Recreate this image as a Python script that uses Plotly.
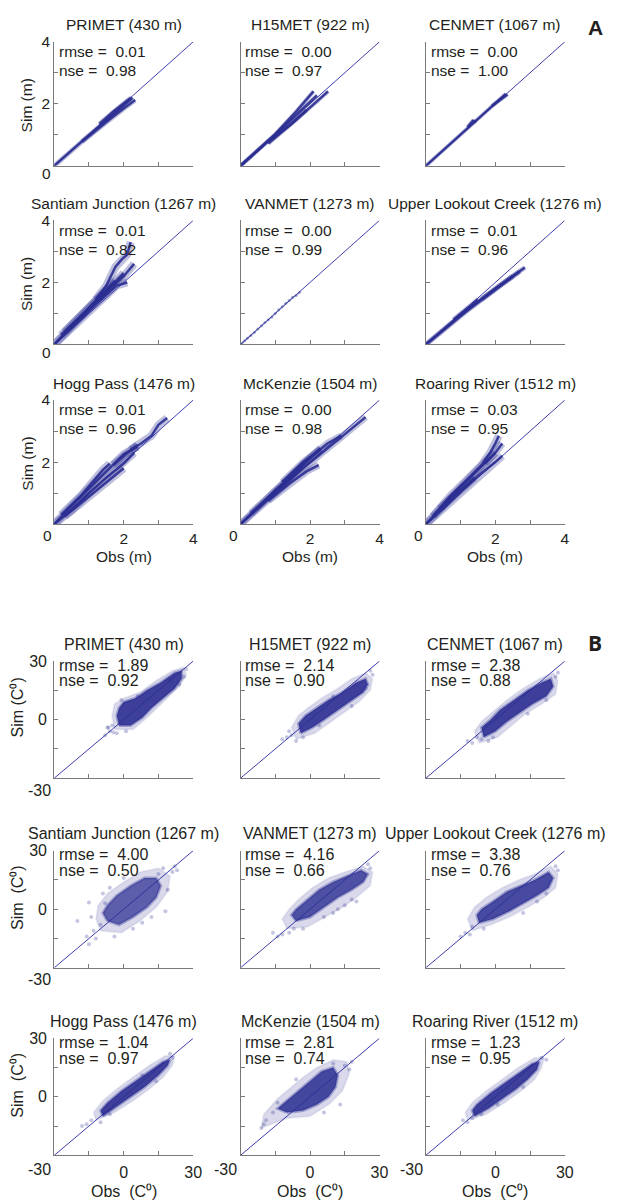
import plotly.graph_objects as go

# ============================ DATA ============================
snow_titles = ["PRIMET (430 m)", "H15MET (922 m)", "CENMET (1067 m)",
               "Santiam Junction (1267 m)", "VANMET (1273 m)", "Upper Lookout Creek (1276 m)",
               "Hogg Pass (1476 m)", "McKenzie (1504 m)", "Roaring River (1512 m)"]
temp_titles = snow_titles
snow_rmse = ["0.01", "0.00", "0.00", "0.01", "0.00", "0.01", "0.01", "0.00", "0.03"]
snow_nse = ["0.98", "0.97", "1.00", "0.82", "0.99", "0.96", "0.96", "0.98", "0.95"]
temp_rmse = ["1.89", "2.14", "2.38", "4.00", "4.16", "3.38", "1.04", "2.81", "1.23"]
temp_nse = ["0.92", "0.90", "0.88", "0.50", "0.66", "0.76", "0.97", "0.74", "0.95"]

snow_range = [0, 4]
snow_major = [2, 4]
snow_minor = [1, 3]
snow_corner = "0"
temp_range = [-30, 30]
temp_major = [0, 30]
temp_minor = [-15, 15]
temp_corner = "-30"

# Snow depth (m): observed vs simulated traces, None separates strands
primet_snow_obs = [0, 0.5, 1.0, 1.5, 1.9, 2.25, None, 0.8, 1.2, 1.6, 2.0, 2.33, None, 1.3, 1.7, 2.1, 2.2]
primet_snow_sim = [0, 0.5, 1.0, 1.48, 1.85, 2.2, None, 0.78, 1.15, 1.5, 1.85, 2.12, None, 1.35, 1.75, 2.1, 2.18]
h15met_snow_obs = [0, 1.0, 1.6, 2.1, None, 0, 1.0, 1.7, 2.2, None, 0.8, 1.6, 2.52, None, 0.9, 1.4, 1.9]
h15met_snow_sim = [0, 1.02, 1.75, 2.4, None, 0, 1.0, 1.75, 2.27, None, 0.72, 1.48, 2.4, None, 0.88, 1.3, 1.8]
cenmet_snow_obs = [0, 1.0, 2.0, 2.3, None, 1.2, 1.35, 1.45, None, 1.9, 2.35]
cenmet_snow_sim = [0, 1.0, 2.0, 2.32, None, 1.25, 1.45, 1.42, None, 1.93, 2.3]
santiam_snow_obs = [0, 0.5, 1.0, 1.5, 2.0, 2.3, None, 0, 0.6, 1.2, 1.8, 2.1, None, 0.3, 0.8, 1.3, 1.75,
                    None, 1.2, 1.5, 1.76, 1.95, 2.1, 2.2, None, 0.2, 0.7, 1.4, 2.0]
santiam_snow_sim = [0, 0.6, 1.15, 1.7, 2.2, 2.6, None, 0, 0.65, 1.3, 1.9, 2.0, None, 0.4, 0.95, 1.55, 2.05,
                    None, 1.45, 1.9, 2.5, 2.75, 2.9, 3.3, None, 0.3, 0.85, 1.6, 2.3]
vanmet_snow_obs = [0.05, 0.12, 0.2, 0.3, 0.4, 0.5, 0.6, 0.7, 0.8, 0.9, 1.0, 1.1, 1.2, 1.3, 1.4, 1.5, 1.6, 1.7]
vanmet_snow_sim = [0.05, 0.12, 0.2, 0.29, 0.39, 0.5, 0.6, 0.71, 0.8, 0.88, 1.0, 1.12, 1.22, 1.33, 1.42, 1.52, 1.58, 1.68]
lookout_snow_obs = [0, 1.0, 2.0, 2.85, None, 0, 1.2, 2.2, 2.7, None, 0.8, 1.5, None, 1.6, 2.5]
lookout_snow_sim = [0, 0.95, 1.8, 2.48, None, 0, 1.1, 1.95, 2.35, None, 0.8, 1.45, None, 1.45, 2.2]
hogg_snow_obs = [0, 0.5, 1.0, 1.5, 2.0, 2.4, None, 0, 0.5, 1.0, 1.5, 2.0, 2.3, None, 0.2, 0.8, 1.4, 1.6,
                 None, 0.3, 1.0, 1.6, 2.0, None, 2.2, 2.5, 2.8, 3.0, 3.25, None, 1.7, 2.1, 2.4]
hogg_snow_sim = [0, 0.6, 1.15, 1.7, 2.25, 2.5, None, 0, 0.45, 1.0, 1.5, 1.95, 2.3, None, 0.3, 0.95, 1.75, 1.95,
                 None, 0.25, 0.9, 1.45, 1.8, None, 2.4, 2.6, 2.85, 3.2, 3.42, None, 1.9, 2.3, 2.55]
mckenzie_snow_obs = [0, 0.5, 1.0, 1.5, 2.0, 2.5, 2.9, None, 0, 0.6, 1.2, 1.8, 2.4, 3.0, 3.6,
                     None, 0.8, 1.4, 1.9, 2.25, None, 0.3, 1.0, 1.7, 2.3, None, 1.2, 1.8, 2.3]
mckenzie_snow_sim = [0, 0.55, 1.1, 1.6, 2.15, 2.6, 2.85, None, 0, 0.6, 1.2, 1.8, 2.35, 2.9, 3.45,
                     None, 0.75, 1.3, 1.7, 1.9, None, 0.35, 1.05, 1.8, 2.45, None, 1.35, 2.0, 2.4]
roaring_snow_obs = [0, 0.5, 1.0, 1.5, 1.8, 2.0, None, 0, 0.5, 1.0, 1.5, 2.0, 2.2,
                    None, 0.2, 0.7, 1.2, 1.6, 1.85, 2.0, 2.1, None, 1.7, 2.0, 2.2, None, 0.4, 0.9, 1.4]
roaring_snow_sim = [0, 0.6, 1.2, 1.75, 2.1, 2.3, None, 0, 0.5, 1.05, 1.55, 2.0, 2.2,
                    None, 0.25, 0.9, 1.45, 1.9, 2.3, 2.6, 2.85, None, 1.95, 2.3, 2.6, None, 0.5, 1.0, 1.5]

# Air temperature (C): dense core outline, outer spread outline, scattered outlying points
primet_core_obs = [-2, 3, 8, 12, 17, 22, 25, 25, 22, 16, 10, 5, 0, -2, -3]
primet_core_sim = [-3, -3, 1, 6, 11, 16, 21, 25, 24, 19, 15, 11, 9, 6, 2]
primet_halo_obs = [-4, 4, 10, 18, 24, 27, 26, 21, 14, 7, 0, -4, -5]
primet_halo_sim = [-5, -5, 1, 10, 17, 23, 27, 25, 20, 14, 11, 8, 2]
primet_pts_obs = [-6, -8, -5, -3, 27, 26, -7, 1, -4.5, -6.6, 24, 20, 6, -1]
primet_pts_sim = [-6, -8, -3, -7, 26, 22, -4, -6, -6.5, -4, 18, 20, 12, 10]

h15met_core_obs = [-4, 1, 6, 12, 18, 23, 25, 24, 20, 14, 8, 2, -2, -5]
h15met_core_sim = [-7, -4, 0, 5, 10, 14, 18, 21, 19, 14, 10, 5, 2, -2]
h15met_halo_obs = [-6, 2, 8, 14, 21, 26, 27, 24, 18, 12, 5, -1, -5, -8]
h15met_halo_sim = [-10, -7, -2, 3, 9, 15, 21, 24, 21, 16, 11, 6, 2, -4]
h15met_pts_obs = [-8, -10, -6, -3, 27, 26, 24, -9, -12, 18, 4, 10]
h15met_pts_sim = [-8, -9, -11, -9, 23, 25, 16, -6, -10, 7, -3, 12]

cenmet_core_obs = [-5, 0, 5, 10, 16, 22, 25, 24, 20, 14, 8, 2, -2, -6]
cenmet_core_sim = [-9, -6, -1, 3, 8, 12, 17, 21, 19, 15, 10, 5, 0, -4]
cenmet_halo_obs = [-7, 1, 7, 13, 20, 26, 27, 25, 19, 12, 5, -1, -6, -9]
cenmet_halo_sim = [-12, -9, -3, 3, 8, 13, 20, 24, 21, 16, 10, 4, -1, -6]
cenmet_pts_obs = [-12, -10, -8, -3, 27, 26, -1, -6, 14, 22]
cenmet_pts_sim = [-11, -12, -9, -11, 24, 22, -9, -10, 3, 10]

santiam_core_obs = [-7, -2, 4, 10, 14, 16, 14, 9, 3, -3, -7, -9]
santiam_core_sim = [-6, -8, -4, 1, 6, 12, 16, 16, 12, 7, 2, -2]
santiam_halo_obs = [-10, -1, 7, 14, 19, 20, 15, 7, 0, -7, -11, -12]
santiam_halo_sim = [-11, -12, -6, 1, 9, 17, 21, 19, 14, 8, 2, -5]
santiam_pts_obs = [-20, -15, -15, -13, -12, -8, -4, 22, 21, 17, -16, -14, 4, 12, -9, 23, 18, -10, 8, 19, -6, 0, 15]
santiam_pts_sim = [-6, -18, 3.5, -11, -15, 3, -14, 22, 19, 21, -14, -4, -10, -4, 8, 20, -1, -8, -7, 10, 11, 16, 18]

vanmet_core_obs = [-6, 0, 6, 12, 18, 23, 25, 22, 16, 10, 4, -2, -6, -8]
vanmet_core_sim = [-6, -4, 1, 6, 10, 14, 18, 20, 17, 14, 10, 4, 0, -3]
vanmet_halo_obs = [-10, -1, 8, 14, 20, 26, 27, 23, 15, 8, 1, -5, -9, -12]
vanmet_halo_sim = [-10, -9, -3, 1, 6, 12, 19, 22, 19, 16, 11, 5, 0, -5]
vanmet_pts_obs = [-14, -12, -16, -9, -3, 12, 15, 18, 26, 25, -7, 10, 6, 20]
vanmet_pts_sim = [-14, -13, -12, -12, -10, 0, 2, 5, 21, 23, -10, -2, -4, 4]

lookout_core_obs = [-7, -1, 6, 12, 18, 23, 25, 23, 17, 11, 5, -1, -6, -8]
lookout_core_sim = [-7, -5, -1, 3, 7, 11, 16, 19, 15, 12, 9, 4, 0, -3]
lookout_halo_obs = [-10, -2, 6, 14, 21, 26, 27, 24, 17, 10, 3, -4, -9, -12]
lookout_halo_sim = [-11, -8, -4, 1, 6, 11, 18, 22, 18, 15, 11, 6, 1, -5]
lookout_pts_obs = [-13, -11, -10, -15, 26, 27, 18, -5, 12, 22]
lookout_pts_sim = [-12, -13, -9, -14, 22, 20, 4, -10, -2, 8]

hogg_core_obs = [-9, -3, 3, 9, 15, 19, 20, 17, 11, 5, -1, -7, -10]
hogg_core_sim = [-10, -5, 0, 5, 11, 16, 19, 18, 13, 8, 3, -3, -7]
hogg_halo_obs = [-12, -4, 4, 11, 17, 21, 22, 18, 11, 4, -3, -9, -13]
hogg_halo_sim = [-12, -8, -2, 4, 10, 16, 21, 21, 16, 10, 4, -2, -8]
hogg_pts_obs = [-18, -16, -14, -10, 21, 20, -6, 14, 8]
hogg_pts_sim = [-15, -14, -12, -13, 20, 22, -9, 8, 11]

mckenzie_core_obs = [-10, -3, 3, 8, 11, 12, 10, 5, 0, -4, -8, -12, -14]
mckenzie_core_sim = [-8, -7, -4, 0, 5, 11, 15, 13, 8, 4, 0, -4, -6]
mckenzie_halo_obs = [-21, -10, 0, 8, 14, 17, 16, 10, 3, -3, -8, -14, -20]
mckenzie_halo_sim = [-16, -11, -10, -4, 3, 12, 18, 19, 15, 10, 5, -1, -9]
mckenzie_pts_obs = [-20, -19, -21, 15, 18, 17, 13, -14, -16, 6, -6, 10]
mckenzie_pts_sim = [-14, -12, -16, 16, 18, 14, -4, -3, -8, -8, 9, 17]

roaring_core_obs = [-9, -3, 3, 9, 14, 18, 19, 16, 10, 4, -2, -8, -10]
roaring_core_sim = [-10, -6, -1, 4, 9, 14, 18, 17, 12, 7, 2, -4, -7]
roaring_halo_obs = [-12, -4, 4, 11, 17, 20, 21, 17, 10, 3, -4, -10, -13]
roaring_halo_sim = [-12, -9, -3, 3, 9, 15, 20, 20, 15, 9, 3, -3, -8]
roaring_pts_obs = [-14, -12, -10, 20, 22, -6, 1, 12]
roaring_pts_sim = [-12, -13, -11, 20, 19, -9, -4, 5]

# ============================ STYLE / GEOMETRY ============================
W, H = 632, 1202
COL_X0 = [55, 244, 432]
PW = 141
A_TOPS, A_H = [33, 213, 394], 125
B_TOPS, B_H = [657, 848, 1037], 118
FONT = "Liberation Sans, Arial, Helvetica, sans-serif"
TXT = "#231f20"
AX = "#7a7a7a"
DOT = "43,46,145"
DIAG = "#3d3fae"
CORE_ALPHA = [0.9, 0.9, 0.9, 0.72, 0.8, 0.84, 0.9, 0.86, 0.9]
BAND_W = [5, 4, 4, 8, 0, 5, 8, 7, 8]

snow_obs = [primet_snow_obs, h15met_snow_obs, cenmet_snow_obs, santiam_snow_obs, vanmet_snow_obs,
            lookout_snow_obs, hogg_snow_obs, mckenzie_snow_obs, roaring_snow_obs]
snow_sim = [primet_snow_sim, h15met_snow_sim, cenmet_snow_sim, santiam_snow_sim, vanmet_snow_sim,
            lookout_snow_sim, hogg_snow_sim, mckenzie_snow_sim, roaring_snow_sim]
core_obs = [primet_core_obs, h15met_core_obs, cenmet_core_obs, santiam_core_obs, vanmet_core_obs,
            lookout_core_obs, hogg_core_obs, mckenzie_core_obs, roaring_core_obs]
core_sim = [primet_core_sim, h15met_core_sim, cenmet_core_sim, santiam_core_sim, vanmet_core_sim,
            lookout_core_sim, hogg_core_sim, mckenzie_core_sim, roaring_core_sim]
halo_obs = [primet_halo_obs, h15met_halo_obs, cenmet_halo_obs, santiam_halo_obs, vanmet_halo_obs,
            lookout_halo_obs, hogg_halo_obs, mckenzie_halo_obs, roaring_halo_obs]
halo_sim = [primet_halo_sim, h15met_halo_sim, cenmet_halo_sim, santiam_halo_sim, vanmet_halo_sim,
            lookout_halo_sim, hogg_halo_sim, mckenzie_halo_sim, roaring_halo_sim]
pts_obs = [primet_pts_obs, h15met_pts_obs, cenmet_pts_obs, santiam_pts_obs, vanmet_pts_obs,
           lookout_pts_obs, hogg_pts_obs, mckenzie_pts_obs, roaring_pts_obs]
pts_sim = [primet_pts_sim, h15met_pts_sim, cenmet_pts_sim, santiam_pts_sim, vanmet_pts_sim,
           lookout_pts_sim, hogg_pts_sim, mckenzie_pts_sim, roaring_pts_sim]


def fx(px):
    return px / W


def fy(py):
    return 1 - py / H


fig = go.Figure()
annotations = []
layout = {}

idx = 0
for panel in ["A", "B"]:
    if panel == "A":
        tops, ph, rng, major, minor, corner = A_TOPS, A_H, snow_range, snow_major, snow_minor, snow_corner
        fs = 15.5
    else:
        tops, ph, rng, major, minor, corner = B_TOPS, B_H, temp_range, temp_major, temp_minor, temp_corner
        fs = 16
    for k in range(9):
        r, c = divmod(k, 3)
        idx += 1
        sfx = "" if idx == 1 else str(idx)
        x0 = COL_X0[c]
        top = tops[r]
        bottom = top + ph
        xname, yname = "xaxis" + sfx, "yaxis" + sfx
        xref, yref = "x" + sfx, "y" + sfx
        common = dict(range=rng, showline=True, linecolor=AX, linewidth=1, ticks="inside",
                      ticklen=4, tickcolor=AX, tickwidth=1, showgrid=False, zeroline=False,
                      tickmode="array", tickvals=major, ticktext=[str(v) for v in major],
                      minor=dict(tickmode="array", tickvals=minor, ticks="inside", ticklen=4,
                                 tickcolor=AX, tickwidth=1, showgrid=False),
                      fixedrange=True, tickfont=dict(family=FONT, size=fs, color=TXT))
        layout[xname] = dict(common, domain=[fx(x0), fx(x0 + PW)], anchor=yref,
                             showticklabels=(r == 2),
                             ticklabelstandoff=(0 if panel == "A" else 2))
        layout[yname] = dict(common, domain=[fy(bottom), fy(top)], anchor=xref,
                             showticklabels=(c == 0),
                             ticklabelstandoff=(0 if panel == "A" else 3))

        # 1:1 line
        fig.add_trace(go.Scatter(x=rng, y=rng, mode="lines", xaxis=xref, yaxis=yref,
                                 line=dict(color=DIAG, width=1), showlegend=False, hoverinfo="skip"))
        if panel == "A":
            ox, sy = snow_obs[k], snow_sim[k]
            if k == 4:
                fig.add_trace(go.Scatter(x=ox, y=sy, mode="lines+markers", xaxis=xref, yaxis=yref,
                                         line=dict(color=f"rgba({DOT},0.3)", width=1.5),
                                         marker=dict(size=3, color=f"rgba({DOT},0.4)"),
                                         showlegend=False))
            else:
                fig.add_trace(go.Scatter(x=ox, y=sy, mode="lines", xaxis=xref, yaxis=yref,
                                         line=dict(color=f"rgba({DOT},0.3)", width=BAND_W[k]),
                                         showlegend=False, connectgaps=False))
                fig.add_trace(go.Scatter(x=ox, y=sy, mode="lines", xaxis=xref, yaxis=yref,
                                         line=dict(color=f"rgba({DOT},0.9)", width=2.5),
                                         showlegend=False, connectgaps=False))
            title, rm, ns = snow_titles[k], snow_rmse[k], snow_nse[k]
            l1, l2 = top + 10, top + 29
        else:
            fig.add_trace(go.Scatter(x=pts_obs[k], y=pts_sim[k], mode="markers", xaxis=xref, yaxis=yref,
                                     marker=dict(size=4, color=f"rgba({DOT},0.28)"), showlegend=False))
            fig.add_trace(go.Scatter(x=halo_obs[k] + halo_obs[k][:1], y=halo_sim[k] + halo_sim[k][:1],
                                     mode="lines", fill="toself", xaxis=xref, yaxis=yref,
                                     fillcolor=f"rgba({DOT},0.18)", line=dict(width=2, color=f"rgba({DOT},0.08)"),
                                     showlegend=False, hoverinfo="skip"))
            fig.add_trace(go.Scatter(x=core_obs[k] + core_obs[k][:1], y=core_sim[k] + core_sim[k][:1],
                                     mode="lines", fill="toself", xaxis=xref, yaxis=yref,
                                     fillcolor=f"rgba({DOT},{CORE_ALPHA[k]})",
                                     line=dict(width=3, color=f"rgba({DOT},0.35)"),
                                     showlegend=False, hoverinfo="skip"))
            title, rm, ns = temp_titles[k], temp_rmse[k], temp_nse[k]
            l1, l2 = top + 4, top + 20

        annotations.append(dict(text=title, x=fx(x0 + PW / 2), y=fy(top - 17), xref="paper", yref="paper",
                                showarrow=False, xanchor="center", yanchor="middle",
                                font=dict(family=FONT, size=fs, color=TXT)))
        annotations.append(dict(text="rmse =  " + rm, x=fx(x0 + 3), y=fy(l1), xref="paper", yref="paper",
                                showarrow=False, xanchor="left", yanchor="middle",
                                font=dict(family=FONT, size=fs, color=TXT)))
        annotations.append(dict(text="nse =  " + ns, x=fx(x0 + 3), y=fy(l2), xref="paper", yref="paper",
                                showarrow=False, xanchor="left", yanchor="middle",
                                font=dict(family=FONT, size=fs, color=TXT)))
        # corner tick labels (offset away from the origin corner)
        if c == 0 and r < 2:
            annotations.append(dict(text=corner, x=fx(x0 - 1), y=fy(bottom + (8 if panel == "A" else 12)),
                                    xref="paper", yref="paper", showarrow=False, xanchor="right",
                                    yanchor="middle", font=dict(family=FONT, size=fs, color=TXT)))
        if r == 2:
            annotations.append(dict(text=corner, x=fx(x0 - (7 if panel == "A" else 15)),
                                    y=fy(bottom + (11 if panel == "A" else 14)),
                                    xref="paper", yref="paper", showarrow=False, xanchor="center",
                                    yanchor="middle", font=dict(family=FONT, size=fs, color=TXT)))
            obs_txt = "Obs (m)" if panel == "A" else "Obs  (C\u2070)"
            annotations.append(dict(text=obs_txt, x=fx(x0 + PW / 2), y=fy(bottom + (33 if panel == "A" else 36)),
                                    xref="paper", yref="paper", showarrow=False, xanchor="center",
                                    yanchor="middle", font=dict(family=FONT, size=fs, color=TXT)))
        if c == 0:
            sim_txt = "Sim (m)" if panel == "A" else ("Sim (C\u2070)" if r == 0 else "Sim  (C\u2070)")
            annotations.append(dict(text=sim_txt, x=fx(27 if panel == "A" else 18),
                                    y=fy(top + ph / 2 + (2 if panel == "A" else -12)),
                                    xref="paper", yref="paper", showarrow=False, textangle=-90,
                                    xanchor="center", yanchor="middle",
                                    font=dict(family=FONT, size=fs, color=TXT)))

annotations.append(dict(text="A", x=fx(604), y=fy(19), xref="paper", yref="paper", showarrow=False,
                        xanchor="center", yanchor="middle",
                        font=dict(family=FONT, size=21, color=TXT, weight="bold")))
annotations.append(dict(text="B", x=fx(604), y=fy(639), xref="paper", yref="paper", showarrow=False,
                        xanchor="center", yanchor="middle",
                        font=dict(family="Open Sans, " + FONT, size=21, color=TXT, weight="bold")))

fig.update_layout(width=W, height=H, margin=dict(l=0, r=0, t=0, b=0),
                  paper_bgcolor="white", plot_bgcolor="white", showlegend=False,
                  annotations=annotations, **layout)
fig.write_html("out.html", config={"displayModeBar": False},
               post_script="document.body.style.margin='0px';document.body.style.padding='0px';")
